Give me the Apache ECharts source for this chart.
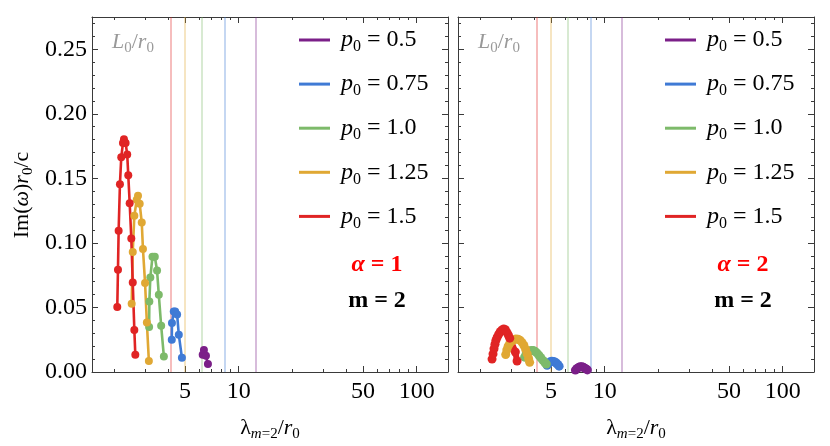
<!DOCTYPE html>
<html><head><meta charset="utf-8">
<script src="https://cdn.jsdelivr.net/npm/echarts@6/dist/echarts.min.js"></script>
<style>html,body{margin:0;padding:0;background:#fff}#c{width:830px;height:446px}</style>
</head><body><div id="c"></div>
<script>
// ---- data ----
const seriesNames = ['p0 = 0.5', 'p0 = 0.75', 'p0 = 1.0', 'p0 = 1.25', 'p0 = 1.5'];
const p0Labels = ['0.5', '0.75', '1.0', '1.25', '1.5'];
const L0values = [12.47, 8.34, 6.22, 5.0, 4.16];
const xLabelVals = [5, 10, 50, 100];
const xMajorTicks = [5, 10, 50, 100];
const xMinorTicks = [2, 3, 4, 6, 7, 8, 9, 20, 30, 40, 60, 70, 80, 90];
const yLabelVals = [0, 0.05, 0.10, 0.15, 0.20, 0.25];
const yMinorTicks = [0.01, 0.02, 0.03, 0.04, 0.06, 0.07, 0.08, 0.09, 0.11, 0.12, 0.13, 0.14,
  0.16, 0.17, 0.18, 0.19, 0.21, 0.22, 0.23, 0.24, 0.26, 0.27];

// alpha = 1
const a1_p050_x = [6.28, 6.38, 6.55, 6.72];
const a1_p050_y = [0.0134, 0.0170, 0.0126, 0.0062];
const a1_p075_x = [4.21, 4.22, 4.32, 4.40, 4.51, 4.61, 4.80];
const a1_p075_y = [0.0250, 0.0379, 0.0469, 0.0469, 0.0446, 0.0289, 0.0111];
const a1_p100_x = [3.14, 3.15, 3.19, 3.28, 3.38, 3.48, 3.56, 3.67, 3.80];
const a1_p100_y = [0.0348, 0.0546, 0.0732, 0.0893, 0.0893, 0.0786, 0.0598, 0.0358, 0.0121];
const a1_p125_x = [2.506, 2.541, 2.594, 2.675, 2.72, 2.78, 2.855, 2.90, 2.98, 3.05, 3.13];
const a1_p125_y = [0.0529, 0.0929, 0.121, 0.1334, 0.1365, 0.1303, 0.1158, 0.0952, 0.0689, 0.0384, 0.0085];
const a1_p150_x = [2.080, 2.099, 2.117, 2.153, 2.190, 2.239, 2.268, 2.317, 2.366, 2.398, 2.442, 2.494, 2.541, 2.594, 2.627];
const a1_p150_y = [0.0503, 0.0792, 0.1094, 0.1455, 0.1663, 0.1774, 0.1803, 0.1774, 0.1684, 0.1525, 0.1308, 0.1034, 0.0694, 0.0325, 0.0134];

// alpha = 2
const a2_p050_x = [6.85, 7.00, 7.15, 7.30, 7.45, 7.60, 7.75, 7.90, 8.00];
const a2_p050_y = [0.0015, 0.0028, 0.0036, 0.0040, 0.0040, 0.0036, 0.0030, 0.0022, 0.0016];
const a2_p075_x = [4.75, 4.85, 4.95, 5.05, 5.15, 5.25, 5.35, 5.45, 5.55];
const a2_p075_y = [0.0052, 0.0068, 0.0079, 0.0083, 0.0082, 0.0078, 0.0070, 0.0058, 0.0045];
const a2_p100_x = [3.55, 3.62, 3.70, 3.79, 3.88, 3.97, 4.06, 4.16, 4.27, 4.38, 4.50, 4.62, 4.70];
const a2_p100_y = [0.0115, 0.0140, 0.0155, 0.0163, 0.0167, 0.0166, 0.0160, 0.0148, 0.0130, 0.0110, 0.0090, 0.0072, 0.0062];
const a2_p125_x = [2.78, 2.82, 2.87, 2.93, 3.00, 3.08, 3.17, 3.26, 3.35, 3.44, 3.52, 3.60, 3.67, 3.74, 3.79];
const a2_p125_y = [0.0135, 0.0170, 0.0200, 0.0222, 0.0238, 0.0250, 0.0256, 0.0254, 0.0245, 0.0228, 0.0205, 0.0175, 0.0140, 0.0105, 0.0075];
const a2_p150_x = [2.33, 2.36, 2.39, 2.42, 2.45, 2.49, 2.54, 2.59, 2.65, 2.71, 2.77, 2.83, 2.88, 2.93, 3.15, 3.22];
const a2_p150_y = [0.0100, 0.0140, 0.0180, 0.0215, 0.0245, 0.0270, 0.0292, 0.0312, 0.0326, 0.0333, 0.0328, 0.0305, 0.0285, 0.0262, 0.0155, 0.0085];

// ---- styling ----
const colors = ['#7B1F88', '#3F7AD5', '#7DBA6A', '#E0A834', '#E02424'];
const SERIF = "'Liberation Serif', 'DejaVu Serif', serif";
const FRAME = '#3a3a3a';

const panels = [
  {xs: [a1_p050_x, a1_p075_x, a1_p100_x, a1_p125_x, a1_p150_x],
   ys: [a1_p050_y, a1_p075_y, a1_p100_y, a1_p125_y, a1_p150_y], alpha: '1'},
  {xs: [a2_p050_x, a2_p075_x, a2_p100_x, a2_p125_x, a2_p150_x],
   ys: [a2_p050_y, a2_p075_y, a2_p100_y, a2_p125_y, a2_p150_y], alpha: '2'}
];
const gridLeft = [92, 458];
const gridTop = 17, gridW = 356, gridH = 355;

function xAx(g, pos, ticks, len, line, labels) {
  return {
    type: 'log', logBase: 10, gridIndex: g, position: pos, min: 1.5, max: 150,
    axisLine: {show: line, onZero: false, lineStyle: {color: FRAME, width: 1}},
    axisTick: {show: true, inside: true, length: len, customValues: ticks, lineStyle: {color: FRAME, width: 1}},
    axisLabel: labels ? {show: true, customValues: xLabelVals, margin: 8, color: '#000',
      fontFamily: SERIF, fontSize: 24, formatter: v => String(Math.round(v))} : {show: false},
    splitLine: {show: false}, minorTick: {show: false}, minorSplitLine: {show: false}
  };
}
function yAx(g, pos, ticks, len, line, labels) {
  return {
    type: 'value', gridIndex: g, position: pos, min: 0, max: 0.275,
    axisLine: {show: line, onZero: false, lineStyle: {color: FRAME, width: 1}},
    axisTick: {show: true, inside: true, length: len, customValues: ticks, lineStyle: {color: FRAME, width: 1}},
    axisLabel: labels ? {show: true, customValues: yLabelVals, margin: 5, color: '#000',
      fontFamily: SERIF, fontSize: 24, formatter: v => v.toFixed(2)} : {show: false},
    splitLine: {show: false}
  };
}

const grids = [], xAxes = [], yAxes = [], series = [], legends = [], graphics = [];
const richLegend = {
  p: {fontFamily: SERIF, fontStyle: 'italic', fontSize: 24, color: '#000', padding: [0, 0, 0, 6]},
  s: {fontFamily: SERIF, fontSize: 16, color: '#000', padding: [14, 0, 0, 0]},
  n: {fontFamily: SERIF, fontSize: 24, color: '#000'}
};

panels.forEach((P, g) => {
  grids.push({left: gridLeft[g], top: gridTop, width: gridW, height: gridH, containLabel: false});
  xAxes.push(xAx(g, 'bottom', xMajorTicks, 6, true, true));
  xAxes.push(xAx(g, 'bottom', xMinorTicks, 3, false, false));
  xAxes.push(xAx(g, 'top', xMajorTicks, 6, true, false));
  xAxes.push(xAx(g, 'top', xMinorTicks, 3, false, false));
  yAxes.push(yAx(g, 'left', yLabelVals, 6, true, g === 0));
  yAxes.push(yAx(g, 'left', yMinorTicks, 3, false, false));
  yAxes.push(yAx(g, 'right', yLabelVals, 6, true, false));
  yAxes.push(yAx(g, 'right', yMinorTicks, 3, false, false));
  for (let i = 0; i < 5; i++) {
    const data = P.xs[i].map((x, k) => [x, P.ys[i][k]]);
    series.push({
      type: 'line', name: seriesNames[i], xAxisIndex: 4 * g, yAxisIndex: 4 * g, data,
      symbol: 'circle', symbolSize: g === 0 ? 8 : 9, showSymbol: true,
      lineStyle: {color: colors[i], width: g === 0 ? 2.6 : 6},
      itemStyle: {color: colors[i]},
      z: 2,
      markLine: {
        silent: true, symbol: ['none', 'none'], label: {show: false}, z: 1,
        lineStyle: {color: colors[i], width: 1.5, type: 'solid', opacity: 0.4},
        emphasis: {disabled: true},
        data: [{xAxis: L0values[i]}]
      }
    });
  }
  legends.push({
    orient: 'vertical', left: gridLeft[g] + 207, top: 28, padding: 0, data: seriesNames,
    icon: 'rect', itemWidth: 31, itemHeight: 3, itemGap: 17.1,
    selectedMode: false,
    textStyle: {rich: richLegend},
    formatter: name => '{p|p}{s|0}{n| = ' + p0Labels[seriesNames.indexOf(name)] + '}'
  });
  const cx = gridLeft[g] + 285;
  graphics.push({
    type: 'text', x: gridLeft[g] + 20, y: 42,
    style: {text: '{i|L}{s|0}{n|/}{i|r}{s|0}', verticalAlign: 'middle', align: 'left',
      rich: {
        i: {fontFamily: SERIF, fontStyle: 'italic', fontSize: 22, fill: '#999'},
        s: {fontFamily: SERIF, fontSize: 15, fill: '#999', padding: [12, 0, 0, 0]},
        n: {fontFamily: SERIF, fontSize: 22, fill: '#999'}
      }}
  });
  graphics.push({
    type: 'text', x: cx, y: 265,
    style: {text: '{a|α}{b| = ' + P.alpha + '}', align: 'center', verticalAlign: 'middle',
      rich: {
        a: {fontFamily: SERIF, fontStyle: 'italic', fontWeight: 'bold', fontSize: 24, fill: '#FF0000'},
        b: {fontFamily: SERIF, fontWeight: 'bold', fontSize: 24, fill: '#FF0000'}
      }}
  });
  graphics.push({
    type: 'text', x: cx, y: 301,
    style: {text: 'm = 2', align: 'center', verticalAlign: 'middle',
      font: "bold 24px 'Liberation Serif', serif", fill: '#000'}
  });
  graphics.push({
    type: 'text', x: gridLeft[g] + gridW / 2, y: 428,
    style: {text: '{n|λ}{si|m}{sn|=2}{n|/}{i|r}{s|0}', align: 'center', verticalAlign: 'middle',
      rich: {
        n: {fontFamily: SERIF, fontSize: 22, fill: '#000'},
        i: {fontFamily: SERIF, fontStyle: 'italic', fontSize: 22, fill: '#000'},
        si: {fontFamily: SERIF, fontStyle: 'italic', fontSize: 15, fill: '#000', padding: [12, 0, 0, 0]},
        sn: {fontFamily: SERIF, fontSize: 15, fill: '#000', padding: [12, 0, 0, 0]},
        s: {fontFamily: SERIF, fontSize: 15, fill: '#000', padding: [12, 0, 0, 0]}
      }}
  });
});

graphics.push({
  type: 'text', x: 22, y: 195, rotation: Math.PI / 2,
  style: {text: '{n|Im(}{i|ω}{n|)}{i|r}{s|0}{n|/c}', align: 'center', verticalAlign: 'middle',
    rich: {
      n: {fontFamily: SERIF, fontSize: 22, fill: '#000'},
      i: {fontFamily: SERIF, fontStyle: 'italic', fontSize: 22, fill: '#000'},
      s: {fontFamily: SERIF, fontSize: 15, fill: '#000', padding: [12, 0, 0, 0]}
    }}
});

const chart = echarts.init(document.getElementById('c'), null, {renderer: 'canvas'});
chart.setOption({
  animation: false,
  backgroundColor: '#fff',
  grid: grids, xAxis: xAxes, yAxis: yAxes, series, legend: legends, graphic: graphics
});
</script></body></html>
